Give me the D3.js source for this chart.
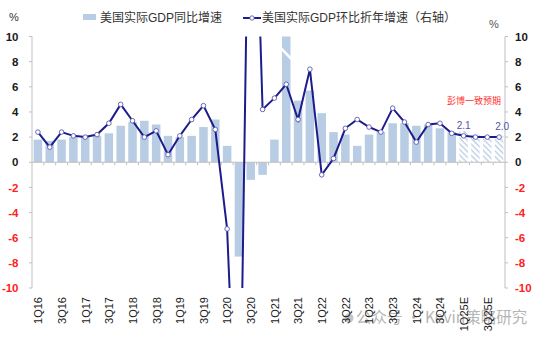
<!DOCTYPE html>
<html><head><meta charset="utf-8">
<script src="https://cdn.jsdelivr.net/npm/d3@7"></script>
<style>
body{margin:0;background:#fff;}
svg{display:block;font-family:"Liberation Sans",Arial,"Noto Sans CJK SC",sans-serif;}
</style></head>
<body>
<svg id="c" width="550" height="351"></svg>
<script>
const categories = ["1Q16","2Q16","3Q16","4Q16","1Q17","2Q17","3Q17","4Q17","1Q18","2Q18","3Q18","4Q18",
"1Q19","2Q19","3Q19","4Q19","1Q20","2Q20","3Q20","4Q20","1Q21","2Q21","3Q21","4Q21",
"1Q22","2Q22","3Q22","4Q22","1Q23","2Q23","3Q23","4Q23","1Q24","2Q24","3Q24","4Q24",
"1Q25E","2Q25E","3Q25E","4Q25E"];
const yoyValues = [1.8,1.7,1.8,2.0, 2.0,2.1,2.3,2.9, 3.2,3.3,3.0,2.1, 2.0,2.1,2.8,3.4,
  1.3,-7.5,-1.4,-1.0, 1.8,12.0,4.9,5.7, 3.9,2.4,2.2,1.3, 2.2,2.4,3.1,3.1, 2.9,3.0,2.7,2.4,
  2.5,2.2,2.1,2.1];
const qoqValues = [2.4,1.2,2.4,2.1, 2.0,2.2,3.1,4.6, 3.3,2.0,2.5,0.6, 2.1,3.4,4.5,2.6,
  -5.3,-28.0,34.8,4.2, 5.1,6.2,3.4,7.4, -1.0,0.3,2.7,3.4, 2.8,2.4,4.3,3.2, 1.6,3.0,3.1,2.3,
  2.1,2.0,2.0,2.0];
const forecastFlags = [false,false,false,false,false,false,false,false,false,false,false,false,
  false,false,false,false,false,false,false,false,false,false,false,false,
  false,false,false,false,false,false,false,false,false,false,false,false,
  true,true,true,true];
const yTicks = [-10,-8,-6,-4,-2,0,2,4,6,8,10];
const xTickLabels = categories.filter((d,i)=>i%2===0);
const seriesNames = ["美国实际GDP同比增速","美国实际GDP环比折年增速（右轴）"];
const annotationText = "彭博一致预期";
const labelledPoints = [{i:36,text:"2.1"},{i:39,text:"2.0"}];
const watermark = "公众号 · Kevin策略研究";

const svg = d3.select("#c");
const L = 32, R = 505, T = 36.5, B = 288;
const barColor = "#b8cce4", lineColor = "#1c1c8c", axisColor = "#bfbfbf";

const x = d3.scaleBand().domain(categories).range([L,R]).paddingInner(0.28).paddingOuter(0.14);
const yL = d3.scaleLinear().domain([-10,10]).range([B,T]);
const yR = d3.scaleLinear().domain([-10,10]).range([B,T]);

const defs = svg.append("defs");
const pat = defs.append("pattern").attr("id","hatch").attr("patternUnits","userSpaceOnUse")
  .attr("width",4).attr("height",4).attr("patternTransform","rotate(45)");
pat.append("rect").attr("width",4).attr("height",4).attr("fill","#fff");
pat.append("line").attr("x1",0).attr("y1",0).attr("x2",4).attr("y2",0)
  .attr("stroke",barColor).attr("stroke-width",2.6);
defs.append("clipPath").attr("id","plot").append("rect")
  .attr("x",L).attr("y",T).attr("width",R-L).attr("height",B-T);

// watermark
svg.append("text").attr("x",356).attr("y",323).attr("font-size",15.5)
  .attr("fill","#b5b5b5").attr("font-family","'Noto Sans CJK SC',sans-serif").text(watermark);
svg.append("circle").attr("cx",349).attr("cy",318).attr("r",4.5).attr("fill","#c4c4c4");

// bars
const data = categories.map((c,i)=>({c,i,yoy:yoyValues[i],qoq:qoqValues[i],f:forecastFlags[i]}));
const gb = svg.append("g").attr("clip-path","url(#plot)");
gb.selectAll("rect").data(data).join("rect")
  .attr("x",d=>x(d.c)).attr("width",x.bandwidth())
  .attr("y",d=>yL(Math.max(0,d.yoy))).attr("height",d=>Math.abs(yL(d.yoy)-yL(0)))
  .attr("fill",d=>d.f?"url(#hatch)":barColor);
// break mark on clipped bar
data.filter(d=>d.yoy>10).forEach(d=>{
  svg.append("line").attr("x1",x(d.c)-1).attr("y1",yL(9.0)-1)
    .attr("x2",x(d.c)+x.bandwidth()+1).attr("y2",yL(8.2))
    .attr("stroke","#fff").attr("stroke-width",2.5);
});

// axes
const ga = svg.append("g");
ga.append("line").attr("x1",L).attr("x2",L).attr("y1",T).attr("y2",B).attr("stroke",axisColor);
ga.append("line").attr("x1",R).attr("x2",R).attr("y1",T).attr("y2",B).attr("stroke",axisColor);
ga.append("line").attr("x1",L).attr("x2",R).attr("y1",yL(0)).attr("y2",yL(0)).attr("stroke",axisColor);
categories.forEach((c,i)=>{ if(i>0){ const xx = x(c)-x.step()*x.paddingInner()/2;
  ga.append("line").attr("x1",xx).attr("x2",xx).attr("y1",yL(0)).attr("y2",yL(0)+3).attr("stroke",axisColor);}});
yTicks.forEach(t=>{
  ga.append("line").attr("x1",L-3).attr("x2",L).attr("y1",yL(t)).attr("y2",yL(t)).attr("stroke",axisColor);
  ga.append("line").attr("x1",R).attr("x2",R+3).attr("y1",yR(t)).attr("y2",yR(t)).attr("stroke",axisColor);
  ga.append("text").attr("x",18.5).attr("y",yL(t)).attr("dy","0.36em").attr("text-anchor","end")
    .attr("font-size",11.5).attr("font-weight","bold").attr("fill",t<0?"#ff2020":"#1a1a1a").text(t);
  ga.append("text").attr("x",515).attr("y",yR(t)).attr("dy","0.36em").attr("text-anchor","start")
    .attr("font-size",11.5).attr("font-weight","bold").attr("fill",t<0?"#ff2020":"#1a1a1a").text(t);
});
ga.append("text").attr("x",9).attr("y",21).attr("font-size",11).attr("fill","#333").text("%");
ga.append("text").attr("x",489).attr("y",28).attr("font-size",11).attr("fill","#555").text("%");

// x labels
xTickLabels.forEach(c=>{
  const cx = x(c)+x.bandwidth()/2;
  ga.append("text").attr("transform",`translate(${cx+0.5},297) rotate(-90)`)
    .attr("text-anchor","end").attr("dy","0.35em").attr("font-size",11).attr("fill","#1a1a1a").text(c);
});

// line
const gl = svg.append("g").attr("clip-path","url(#plot)");
const line = d3.line().x(d=>x(d.c)+x.bandwidth()/2).y(d=>yR(d.qoq));
gl.append("path").datum(data).attr("d",line).attr("fill","none")
  .attr("stroke",lineColor).attr("stroke-width",2);
gl.selectAll("circle").data(data.filter(d=>d.qoq<=10&&d.qoq>=-10)).join("circle")
  .attr("cx",d=>x(d.c)+x.bandwidth()/2).attr("cy",d=>yR(d.qoq)).attr("r",2.3)
  .attr("fill","#fff").attr("stroke","#5a5ab0").attr("stroke-width",0.9);

// point labels
labelledPoints.forEach(p=>{
  const d = data[p.i];
  svg.append("text").attr("x",x(d.c)+x.bandwidth()/2+(p.i===39?3:0)).attr("y",yR(d.qoq)-7)
    .attr("text-anchor","middle").attr("font-size",10).attr("fill","#5454a8").text(p.text);
});
svg.append("text").attr("x",501).attr("y",101).attr("dy","0.35em").attr("text-anchor","end")
  .attr("font-size",9).attr("fill","#ff3030").attr("font-family","'Noto Sans CJK SC',sans-serif").text(annotationText);

// legend
const lg = svg.append("g").attr("font-size",12).attr("fill","#333");
lg.append("rect").attr("x",83).attr("y",14).attr("width",13).attr("height",6).attr("fill",barColor);
lg.append("text").attr("x",100).attr("y",18).attr("dy","0.35em").attr("fill","#333").text(seriesNames[0]);
lg.append("line").attr("x1",243).attr("x2",261).attr("y1",18).attr("y2",18).attr("stroke",lineColor).attr("stroke-width",2);
lg.append("circle").attr("cx",252).attr("cy",18).attr("r",2.2).attr("fill","#fff").attr("stroke","#5a5ab0").attr("stroke-width",0.9);
lg.append("text").attr("x",262).attr("y",18).attr("dy","0.35em").attr("fill","#333").text(seriesNames[1]);
</script>
</body></html>
